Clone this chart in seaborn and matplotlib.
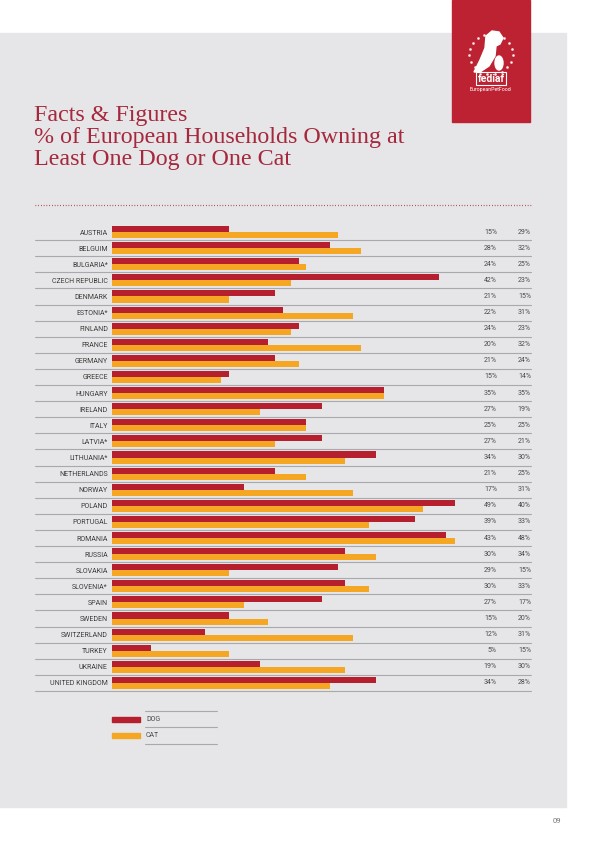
import numpy as np
import pandas as pd
import matplotlib
matplotlib.use("Agg")
import matplotlib.pyplot as plt
import matplotlib.transforms as mtransforms
from matplotlib.patches import Rectangle, Polygon, Ellipse
import seaborn as sns

sns.set_style("white")
plt.rcParams['font.family'] = ['Roboto', 'DejaVu Sans']

countries = ["AUSTRIA", "BELGUIM", "BULGARIA*", "CZECH REPUBLIC", "DENMARK", "ESTONIA*",
             "FINLAND", "FRANCE", "GERMANY", "GREECE", "HUNGARY", "IRELAND", "ITALY",
             "LATVIA*", "LITHUANIA*", "NETHERLANDS", "NORWAY", "POLAND", "PORTUGAL",
             "ROMANIA", "RUSSIA", "SLOVAKIA", "SLOVENIA*", "SPAIN", "SWEDEN",
             "SWITZERLAND", "TURKEY", "UKRAINE", "UNITED KINGDOM"]
dog = [15, 28, 24, 42, 21, 22, 24, 20, 21, 15, 35, 27, 25, 27, 34, 21, 17, 49, 39,
       43, 30, 29, 30, 27, 15, 12, 5, 19, 34]
cat = [29, 32, 25, 23, 15, 31, 23, 32, 24, 14, 35, 19, 25, 21, 30, 25, 31, 40, 33,
       48, 34, 15, 33, 17, 20, 31, 15, 30, 28]
series = ["DOG", "CAT"]

dog_color = "#b51f2e"
cat_color = "#f5a623"
title_color = "#a6283c"
panel_color = "#e6e6e8"
logo_color = "#bd2232"

df = pd.DataFrame({
    "country": countries * 2,
    "pet": ["DOG"] * len(countries) + ["CAT"] * len(countries),
    "value": dog + cat,
})

W, H = 600, 848
fig = plt.figure(figsize=(6, 8.48), dpi=100)
fig.patch.set_facecolor("white")


def fx(px):
    return px / W


def fy(py):
    return 1 - py / H


# page panel and logo box
fig.add_artist(Rectangle((0, fy(807)), fx(566), fy(33) - fy(807),
                         transform=fig.transFigure, color=panel_color, zorder=0))
fig.add_artist(Rectangle((fx(452), fy(122)), fx(530) - fx(452), fy(0) - fy(122),
                         transform=fig.transFigure, color=logo_color, zorder=1))
ang = np.linspace(0.6 * np.pi, 2.4 * np.pi, 18)
fig.add_artist(plt.Line2D(fx(491 + 22 * np.cos(ang)), fy(54 - 20 * np.sin(ang)),
                          transform=fig.transFigure, ls="none", marker="o",
                          ms=1.0, color="white", alpha=0.75, zorder=2))
# rough dog and cat silhouette
dog_shape = [(486, 36), (492, 31), (499, 32), (503, 38), (500, 44), (496, 46),
             (495, 56), (489, 66), (480, 72), (474, 72), (480, 60), (485, 48)]
fig.add_artist(Polygon([(fx(a), fy(b)) for a, b in dog_shape], closed=True,
                       transform=fig.transFigure, color="white", zorder=2))
fig.add_artist(Ellipse((fx(499), fy(63)), 8 / W, 14 / H,
                       transform=fig.transFigure, color="white", zorder=2))
fig.text(fx(491), fy(78.5), "fediaf", color="white", fontsize=7.5, fontweight="bold",
         ha="center", va="center", zorder=3,
         bbox=dict(boxstyle="square,pad=0.15", fc="none", ec="white", lw=0.8))
fig.text(fx(491), fy(90), "EuropeanPetFood", color="white", fontsize=3.8,
         ha="center", va="center", zorder=3)

# title
for i, line in enumerate(["Facts & Figures",
                          "% of European Households Owning at",
                          "Least One Dog or One Cat"]):
    fig.text(fx(34), fy(121 + 22 * i), line, color=title_color, fontsize=17.3,
             family="Liberation Serif", ha="left", va="baseline")

fig.add_artist(plt.Line2D([fx(35), fx(531)], [fy(205), fy(205)],
                          transform=fig.transFigure, color=title_color,
                          lw=0.9, ls=(0, (0.6, 1.6))))

# bar chart
ax = fig.add_axes([fx(112), fy(691), fx(455) - fx(112), fy(224) - fy(691)])
sns.barplot(data=df, y="country", x="value", hue="pet", hue_order=series,
            palette=[dog_color, cat_color], orient="h", width=0.75,
            saturation=1, legend=False, linewidth=0, ax=ax)
ax.set_xlim(0, 44.1)
ax.set_ylim(len(countries) - 0.5, -0.5)
ax.set_facecolor("none")
for s in ax.spines.values():
    s.set_visible(False)
ax.set_xticks([])
ax.set_xlabel("")
ax.set_ylabel("")
ax.tick_params(axis="y", length=0, pad=3, labelsize=5, labelcolor="#3c3c3c")

tr = mtransforms.blended_transform_factory(fig.transFigure, ax.transData)
for i, (d, c) in enumerate(zip(dog, cat)):
    ax.text(fx(497), i, f"{d}%", transform=tr, ha="right", va="center",
            fontsize=5, color="#4a4a4a")
    ax.text(fx(531), i, f"{c}%", transform=tr, ha="right", va="center",
            fontsize=5, color="#4a4a4a")
    ax.plot([fx(35), fx(531)], [i + 0.5, i + 0.5], transform=tr, color="#a8a9ac",
            lw=0.8, clip_on=False, zorder=0)

# legend
for ly in [711, 727, 744]:
    fig.add_artist(plt.Line2D([fx(145), fx(217)], [fy(ly), fy(ly)],
                              transform=fig.transFigure, color="#a8a9ac", lw=0.8))
for name, col, ly in zip(series, [dog_color, cat_color], [719.5, 735.5]):
    fig.add_artist(Rectangle((fx(112), fy(ly + 2.5)), fx(140) - fx(112), 5 / H,
                             transform=fig.transFigure, color=col))
    fig.text(fx(146), fy(ly), name, fontsize=5, color="#4a4a4a",
             ha="left", va="center")

fig.text(fx(557), fy(821), "09", fontsize=5.5, color="#777777",
         ha="center", va="center")

fig.savefig("out.png", dpi=100)
